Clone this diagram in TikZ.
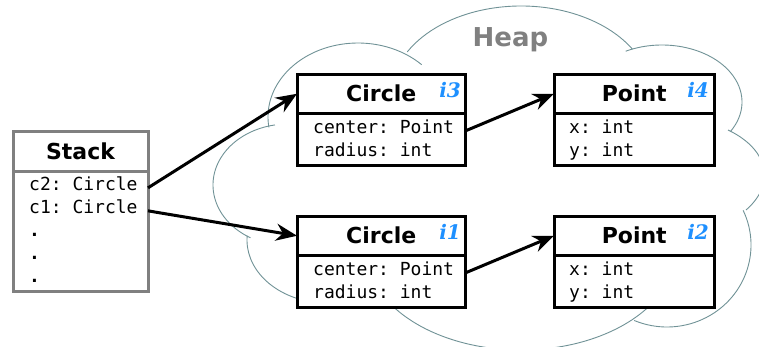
\documentclass[tikz,border=0pt]{standalone}
\usepackage{fontspec}
\setsansfont{DejaVu Sans}
\setmonofont{DejaVu Sans Mono}
\newfontfamily\instfont{DejaVu Serif}
\usetikzlibrary{arrows.meta}
\definecolor{cloudC}{RGB}{112,146,150}
\definecolor{instC}{RGB}{30,144,255}
\definecolor{stackC}{RGB}{128,128,128}

\begin{document}
\begin{tikzpicture}[x=1pt,y=-1pt,>={Stealth[length=21pt,width=17pt]},
  title/.style={draw,fill=white,line width=3pt,inner sep=0pt,outer sep=0pt,font=\sffamily\bfseries\fontsize{22}{26}\selectfont},
  body/.style={draw,fill=white,line width=3pt,outer sep=0pt,anchor=north},
  field/.style={anchor=base west,inner sep=0pt,font=\ttfamily\fontsize{18}{22}\selectfont},
  inst/.style={anchor=base east,inner sep=0pt,text=instC,font=\instfont\bfseries\itshape\fontsize{20}{24}\selectfont},
  ref/.style={->,line width=3pt},
  puff/.style={draw=cloudC,line width=0.9pt}]
\useasboundingbox (0,0) rectangle (759,346);
% heap cloud
\draw[puff] (288,185) ++(260:75 and 61) arc[start angle=260,end angle=120,x radius=75,y radius=61];
\draw[puff] (358,117) ++(172:90 and 74) arc[start angle=172,end angle=315,x radius=90,y radius=74];
\draw[puff] (521,95) ++(209:130 and 89) arc[start angle=209,end angle=329,x radius=130,y radius=89];
\draw[puff] (662,102) ++(243:80 and 57) arc[start angle=243,end angle=391,x radius=80,y radius=57];
\draw[puff] (728,130) .. controls (770,150) and (775,185) .. (746,210);
\draw[puff] (667,245) ++(-25:84 and 82) arc[start angle=-25,end angle=113,x radius=84,y radius=82];
\draw[puff] (521,250) ++(33:155 and 100) arc[start angle=33,end angle=147,x radius=155,y radius=100];
\draw[puff] (327,240) ++(184:80 and 63) arc[start angle=184,end angle=100,x radius=80,y radius=63];
\node[text=stackC,font=\sffamily\bfseries\fontsize{26}{30}\selectfont,anchor=base] (heap) at (510.5,46.5) {Heap};

% stack
\node[title,draw=stackC,minimum width=135pt,minimum height=40pt] (stack) at (80.5,151) {Stack};
\node[body,draw=stackC,minimum width=135pt,minimum height=120pt] (stackbody) at (stack.south) {};
\node[field] (c2) at (29,190) {c2: Circle};
\node[field] (c1) at (29,213) {c1: Circle};
\node[field,font=\ttfamily\bfseries\fontsize{18}{22}\selectfont] (d1) at (29,236) {.};
\node[field,font=\ttfamily\bfseries\fontsize{18}{22}\selectfont] (d2) at (29,259) {.};
\node[field,font=\ttfamily\bfseries\fontsize{18}{22}\selectfont] (d3) at (29,282) {.};

% objects
\node[title,minimum width=168.5pt,minimum height=39.5pt] (circ3) at (381.25,93.75) {Circle};
\node[body,minimum width=168.5pt,minimum height=52pt] (circ3body) at (circ3.south) {};
\node[inst] (i3) at (461,97.5) {i3};
\node[field] (ctr3) at (313,133) {center: Point};
\node[field] (rad3) at (313,156) {radius: int};

\node[title,minimum width=160.5pt,minimum height=39.5pt] (pt4) at (634.25,93.75) {Point};
\node[body,minimum width=160.5pt,minimum height=52pt] (pt4body) at (pt4.south) {};
\node[inst] (i4) at (709,97.5) {i4};
\node[field] (x4) at (569,133) {x: int};
\node[field] (y4) at (569,156) {y: int};

\node[title,minimum width=168.5pt,minimum height=39.5pt] (circ1) at (381.25,235.75) {Circle};
\node[body,minimum width=168.5pt,minimum height=52pt] (circ1body) at (circ1.south) {};
\node[inst] (i1) at (461,239.5) {i1};
\node[field] (ctr1) at (313,275) {center: Point};
\node[field] (rad1) at (313,298) {radius: int};

\node[title,minimum width=160.5pt,minimum height=39.5pt] (pt2) at (634.25,235.75) {Point};
\node[body,minimum width=160.5pt,minimum height=52pt] (pt2body) at (pt2.south) {};
\node[inst] (i2) at (709,239.5) {i2};
\node[field] (x2) at (569,275) {x: int};
\node[field] (y2) at (569,298) {y: int};

% references
\draw[ref] (c2.mid -| stackbody.east) -- (circ3.west);
\draw[ref] (c1.mid -| stackbody.east) -- (circ1.west);
\draw[ref] (ctr3.mid -| circ3body.east) -- (pt4.west);
\draw[ref] (ctr1.mid -| circ1body.east) -- (pt2.west);
\end{tikzpicture}
\end{document}
